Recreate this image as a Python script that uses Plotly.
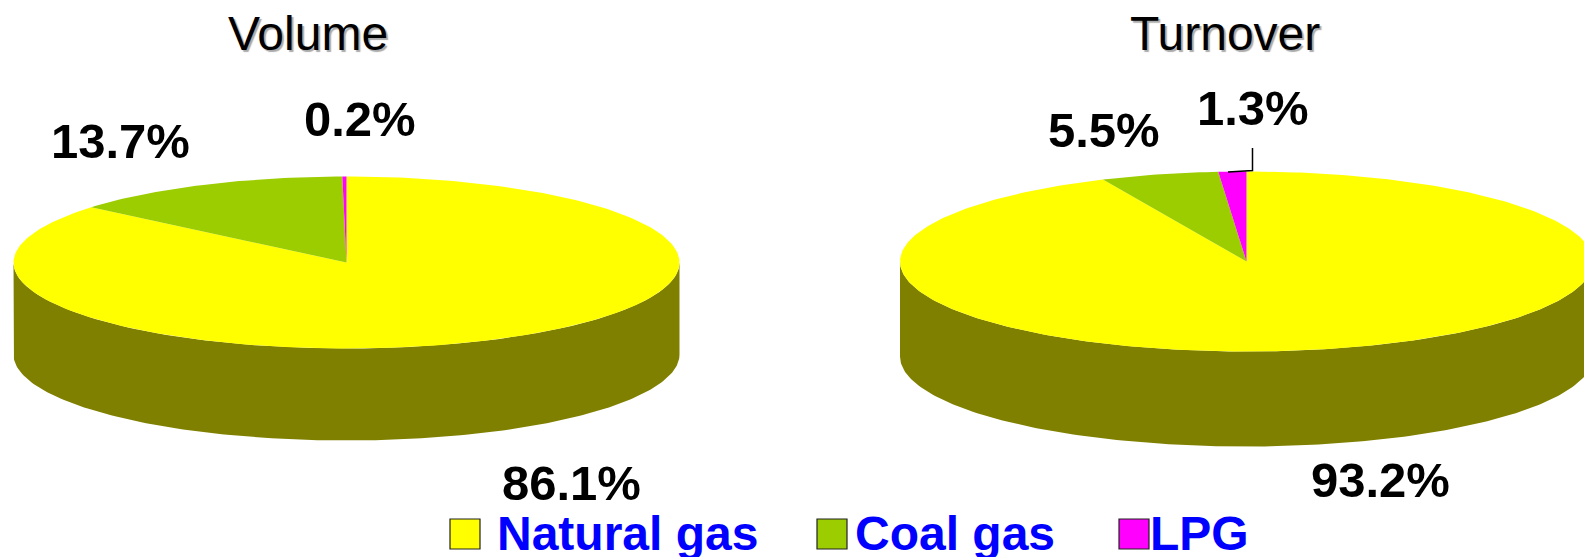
import numpy as np
import plotly.graph_objects as go

# ---- data ----
categories = ["Natural gas", "Coal gas", "LPG"]
volume_values = [86.1, 13.7, 0.2]
turnover_values = [93.2, 5.5, 1.3]
chart_titles = ["Volume", "Turnover"]

# ---- styling ----
W, H = 1584, 557
TOP_COLORS = ["#FFFF00", "#9BCD00", "#FF00FF"]
WALL_COLOR = "#808000"
FONT = "Liberation Sans, Arial, sans-serif"

pies = [
    dict(values=volume_values, title=chart_titles[0], cx=346.5, cy=262.5, rx=333, ry=86, depth=92,
         title_x=308, title_y=33,
         labels=[(571, 483), (120, 141), (360, 119)]),
    dict(values=turnover_values, title=chart_titles[1], cx=1246.5, cy=261.5, rx=346.5, ry=90, depth=95,
         title_x=1225, title_y=33,
         labels=[(1380, 480), (1104, 130), (1253, 108)]),
]


def point(p, deg, drop=0.0):
    t = np.radians(deg)
    return p["cx"] + p["rx"] * np.sin(t), p["cy"] - p["ry"] * np.cos(t) + drop


fig = go.Figure()
annotations = []

for p in pies:
    # front wall of the cylinder
    t = np.linspace(90, 270, 181)
    x_top, y_top = point(p, t)
    x_bot, y_bot = point(p, t[::-1], p["depth"])
    fig.add_trace(go.Scatter(
        x=np.r_[x_top, x_bot], y=np.r_[y_top, y_bot], mode="lines", fill="toself",
        fillcolor=WALL_COLOR, line=dict(width=0), hoverinfo="skip", showlegend=False))
    # top slices, clockwise from 12 o'clock
    start = 0.0
    for name, val, col in zip(categories, p["values"], TOP_COLORS):
        end = start + val * 3.6
        arc = np.linspace(start, end, max(int(val * 3.6), 2) + 1)
        xs, ys = point(p, arc)
        fig.add_trace(go.Scatter(
            x=np.r_[p["cx"], xs, p["cx"]], y=np.r_[p["cy"], ys, p["cy"]],
            mode="lines", fill="toself", fillcolor=col, line=dict(width=0),
            name=name, hovertemplate=f"{p['title']} {name}: {val}%<extra></extra>", showlegend=False))
        start = end
    annotations.append(dict(
        x=p["title_x"], y=p["title_y"], text=p["title"], showarrow=False,
        font=dict(family=FONT, size=48, color="black", shadow="2px 2px 1px #aaaaaa")))
    for val, (lx, ly) in zip(p["values"], p["labels"]):
        annotations.append(dict(
            x=lx, y=ly, text=f"<b>{val}%</b>", showarrow=False,
            font=dict(family=FONT, size=49, color="black")))

# leader line to the LPG slice of the second pie
fig.add_trace(go.Scatter(
    x=[1228, 1252.5, 1252.5], y=[172, 170.5, 148], mode="lines",
    line=dict(color="black", width=1.5), hoverinfo="skip", showlegend=False))

# legend
legend_box_x = [465, 832, 1134]
legend_text_x = [495, 853, 1148]
legend_y = 534
for name, col, bx, tx in zip(categories, TOP_COLORS, legend_box_x, legend_text_x):
    fig.add_trace(go.Scatter(
        x=[bx], y=[legend_y], mode="markers", hoverinfo="skip", showlegend=False,
        marker=dict(symbol="square", size=30, color=col, line=dict(color="#222222", width=1.2))))
    annotations.append(dict(
        x=tx, y=legend_y - 1, text=f"<b>{name}</b>", showarrow=False, xanchor="left",
        font=dict(family=FONT, size=48, color="#0000FF")))

fig.update_layout(
    width=W, height=H, margin=dict(l=0, r=0, t=0, b=0),
    paper_bgcolor="white", plot_bgcolor="white", showlegend=False,
    xaxis=dict(range=[0, W], visible=False, fixedrange=True),
    yaxis=dict(range=[H, 0], visible=False, fixedrange=True),
    annotations=annotations,
)
for a in fig.layout.annotations:
    a.xref = "x"
    a.yref = "y"

fig.write_html("out.html", config=dict(displayModeBar=False),
               post_script="document.body.style.margin='0';document.body.style.overflow='hidden';")
